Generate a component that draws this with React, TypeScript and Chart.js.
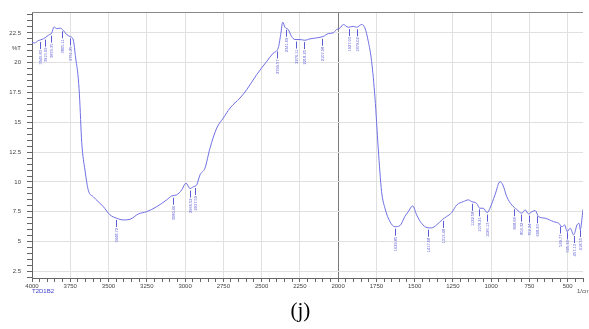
import React, { useEffect, useRef } from 'react';
import { Chart, registerables } from 'chart.js';

Chart.register(...registerables);

// ---- data ----
const wavenumbers = [
  4000, 3985, 3959, 3926, 3893, 3871, 3856, 3839, 3817, 3795, 3773, 3752, 3730, 3715, 3700, 3690,
  3675, 3654, 3632, 3600, 3534, 3490, 3447, 3403, 3360, 3305, 3251, 3185, 3120, 3087, 3055, 3022,
  2994, 2968, 2946, 2924, 2902, 2870, 2837, 2793, 2750, 2706, 2641, 2597, 2532, 2467, 2424, 2391,
  2375, 2362, 2347, 2326, 2304, 2282, 2249, 2216, 2184, 2140, 2097, 2064, 2032, 2010, 1988, 1966,
  1934, 1901, 1879, 1846, 1825, 1803, 1781, 1759, 1738, 1716, 1694, 1661, 1629, 1596, 1564, 1542,
  1513, 1487, 1455, 1418, 1390, 1356, 1317, 1291, 1258, 1225, 1182, 1149, 1127, 1095, 1074, 1052,
  1026, 1008, 975, 942, 924, 898, 865, 833, 800, 778, 756, 734, 712, 691, 647, 592,
  559, 537, 520, 504, 483, 461, 439, 426, 418, 400,
];
const transmittance = [
  21.7, 21.65, 21.85, 22.0, 22.3, 22.5, 23.0, 22.85, 22.9, 22.7, 22.35, 22.2, 21.9, 20.4, 19.0, 17.3,
  13.3, 11.0, 9.3, 8.77, 7.93, 7.24, 6.96, 6.82, 6.87, 7.32, 7.51, 7.93, 8.5, 8.83, 8.92, 9.33,
  9.9, 9.45, 9.6, 9.76, 10.6, 11.16, 12.84, 14.52, 15.36, 16.2, 17.04, 17.74, 19.0, 20.1, 20.8, 21.24,
  22.36, 23.4, 22.97, 22.78, 22.2, 21.94, 21.94, 21.88, 22.0, 22.08, 22.2, 22.44, 22.5, 22.78, 22.9, 23.2,
  22.97, 23.05, 22.97, 23.2, 22.92, 21.8, 20.1, 17.04, 12.84, 9.2, 7.8, 6.67, 6.25, 6.34, 7.1, 7.5,
  8.0, 7.24, 6.54, 6.17, 6.15, 6.4, 6.87, 7.1, 7.43, 8.07, 8.35, 8.5, 8.35, 8.2, 7.8, 7.8,
  7.43, 7.8, 8.92, 10.03, 9.76, 8.77, 8.07, 7.7, 7.38, 7.66, 7.32, 7.51, 7.6, 7.1, 6.96, 6.67,
  6.54, 6.25, 6.4, 5.84, 6.12, 5.56, 6.4, 6.54, 6.0, 7.7,
];

const xTickValues = [4000, 3750, 3500, 3250, 3000, 2750, 2500, 2250, 2000, 1750, 1500, 1250, 1000, 750, 500];
const xTickLabels = ['4000', '3750', '3500', '3250', '3000', '2750', '2500', '2250', '2000', '1750', '1500', '1250', '1000', '750', '500'];
const yTickValues = [2.5, 5, 7.5, 10, 12.5, 15, 17.5, 20, 22.5];
const yTickLabels = ['2.5', '5', '7.5', '10', '12.5', '15', '17.5', '20', '22.5'];
const yUnitValue = 21.2;
const yUnitLabel = '%T';

const peakWavenumbers = [
  3948, 3915, 3878, 3806, 3752, 3451, 3081, 2968, 2937, 2401, 2343, 2277, 2223, 2107, 1927,
  1879, 1629, 1415, 1313, 1124, 1078, 1026, 849, 805, 753, 699, 551, 507, 459, 420,
];
const peakLabels = [
  '3946.83', '3915.09', '3879.35', '3805.11', '3751.25', '3448.72', '3080.46', '2966.52', '2937.59',
  '2399.57', '2341.69', '2276.11', '2218.25', '2107.98', '1927.03', '1879.02', '1629.85', '1417.68',
  '1313.48', '1122.58', '1078.21', '1026.13', '848.68', '804.32', '752.24', '698.23', '549.77',
  '505.34', '457.13', '418.55',
];

const sampleName = 'T2D1B2';
const xUnitLabel = '1/cm';
const caption = '(j)';

const X_MIN = 400;
const X_MAX = 4000;
const Y_MIN = 1.95;
const Y_MAX = 24.25;

const LINE_COLOR = '#6f6fe4';
const LABEL_COLOR = '#5b5bd6';

function curveAt(w: number): number {
  for (let i = 0; i < wavenumbers.length - 1; i++) {
    const a = wavenumbers[i];
    const b = wavenumbers[i + 1];
    if (w <= a && w >= b) {
      const t = (a - w) / (a - b);
      return transmittance[i] + t * (transmittance[i + 1] - transmittance[i]);
    }
  }
  return transmittance[transmittance.length - 1];
}

const decorPlugin = {
  id: 'decor',
  afterDatasetsDraw(chart: any) {
    const { ctx, chartArea, scales } = chart;
    const xs = scales.x;
    const ys = scales.y;
    ctx.save();
    // top frame line
    ctx.strokeStyle = '#8a8a8a';
    ctx.lineWidth = 1;
    ctx.beginPath();
    ctx.moveTo(chartArea.left, chartArea.top + 0.5);
    ctx.lineTo(chartArea.right, chartArea.top + 0.5);
    ctx.stroke();

    // peak annotations
    ctx.strokeStyle = LABEL_COLOR;
    ctx.fillStyle = LABEL_COLOR;
    ctx.font = '4px "Liberation Sans", Arial, sans-serif';
    peakWavenumbers.forEach((w, i) => {
      const px = Math.round(xs.getPixelForValue(w)) + 0.5;
      const py = ys.getPixelForValue(curveAt(w));
      const lineTop = py + 2;
      const lineBottom = py + 9;
      ctx.beginPath();
      ctx.moveTo(px, lineTop);
      ctx.lineTo(px, lineBottom);
      ctx.stroke();
      ctx.save();
      ctx.translate(px, lineBottom + 1);
      ctx.rotate(-Math.PI / 2);
      ctx.textAlign = 'right';
      ctx.textBaseline = 'middle';
      ctx.fillText(peakLabels[i], 0, 0);
      ctx.restore();
    });
    ctx.restore();
  },
  afterDraw(chart: any) {
    const { ctx, chartArea, width } = chart;
    ctx.save();
    ctx.font = '6px "Liberation Sans", Arial, sans-serif';
    ctx.textBaseline = 'middle';
    ctx.textAlign = 'left';
    ctx.fillStyle = '#4040cc';
    ctx.fillText(sampleName, chartArea.left, chartArea.bottom + 13);
    ctx.fillStyle = '#555555';
    ctx.fillText(xUnitLabel, chartArea.right - 6, chartArea.bottom + 13.5);
    ctx.fillStyle = '#000000';
    ctx.font = '21px "Liberation Serif", "Times New Roman", serif';
    ctx.textAlign = 'center';
    ctx.textBaseline = 'alphabetic';
    ctx.fillText(caption, width * 0.51, chartArea.bottom + 39);
    ctx.restore();
  },
};

export default function App() {
  const canvasRef = useRef<HTMLCanvasElement | null>(null);

  useEffect(() => {
    const canvas = canvasRef.current;
    if (!canvas) return;
    const points = wavenumbers.map((w, i) => ({ x: w, y: transmittance[i] }));

    const chart = new Chart(canvas, {
      type: 'line',
      data: {
        datasets: [
          {
            data: points,
            borderColor: LINE_COLOR,
            borderWidth: 1,
            pointRadius: 0,
            fill: false,
            cubicInterpolationMode: 'monotone',
          },
        ],
      },
      options: {
        responsive: false,
        devicePixelRatio: 1,
        animation: false,
        layout: { padding: { top: 12, right: 6, left: 0, bottom: 0 } },
        plugins: {
          legend: { display: false },
          tooltip: { enabled: false },
        },
        scales: {
          x: {
            type: 'linear',
            position: 'bottom',
            reverse: true,
            min: X_MIN,
            max: X_MAX,
            afterBuildTicks: (axis: any) => {
              const t: any[] = [];
              for (let v = X_MIN; v <= X_MAX; v += 50) t.push({ value: v });
              axis.ticks = t;
            },
            afterFit: (axis: any) => {
              axis.height = 51;
            },
            ticks: {
              autoSkip: false,
              maxRotation: 0,
              minRotation: 0,
              padding: 1,
              color: '#444444',
              font: { size: 6, family: '"Liberation Sans", Arial, sans-serif' },
              callback: (value: any) => {
                const i = xTickValues.indexOf(Number(value));
                return i >= 0 ? xTickLabels[i] : '';
              },
            },
            grid: {
              drawTicks: true,
              tickLength: 4,
              lineWidth: 1,
              color: (ctx: any) => {
                const v = ctx.tick ? ctx.tick.value : null;
                if (v === 2000) return '#7a7a7a';
                return xTickValues.includes(v) ? '#e0e0e0' : 'rgba(0,0,0,0)';
              },
              tickColor: '#666666',
            },
            border: { display: true, color: '#666666', width: 1 },
          },
          y: {
            type: 'linear',
            position: 'left',
            min: Y_MIN,
            max: Y_MAX,
            afterBuildTicks: (axis: any) => {
              const t: any[] = [];
              for (let i = 4; i <= 48; i++) t.push({ value: i / 2 });
              t.push({ value: yUnitValue });
              t.sort((a, b) => a.value - b.value);
              axis.ticks = t;
            },
            afterFit: (axis: any) => {
              axis.width = 32;
            },
            ticks: {
              autoSkip: false,
              padding: 6,
              color: '#444444',
              font: { size: 6, family: '"Liberation Sans", Arial, sans-serif' },
              callback: (value: any) => {
                const v = Number(value);
                if (v === yUnitValue) return yUnitLabel;
                const i = yTickValues.indexOf(v);
                return i >= 0 ? yTickLabels[i] : '';
              },
            },
            grid: {
              drawTicks: true,
              tickLength: 5,
              lineWidth: 1,
              color: (ctx: any) => {
                const v = ctx.tick ? ctx.tick.value : null;
                return yTickValues.includes(v) ? '#e0e0e0' : 'rgba(0,0,0,0)';
              },
              tickColor: (ctx: any) => {
                const v = ctx.tick ? ctx.tick.value : null;
                return v === yUnitValue ? 'rgba(0,0,0,0)' : '#666666';
              },
            },
            border: { display: true, color: '#666666', width: 1 },
          },
        },
      },
      plugins: [decorPlugin],
    } as any);

    return () => {
      chart.destroy();
    };
  }, []);

  return (
    <div style={{ position: 'fixed', left: 0, top: 0, width: 589, height: 329, background: '#ffffff' }}>
      <canvas ref={canvasRef} width={589} height={329} style={{ display: 'block' }} />
    </div>
  );
}
